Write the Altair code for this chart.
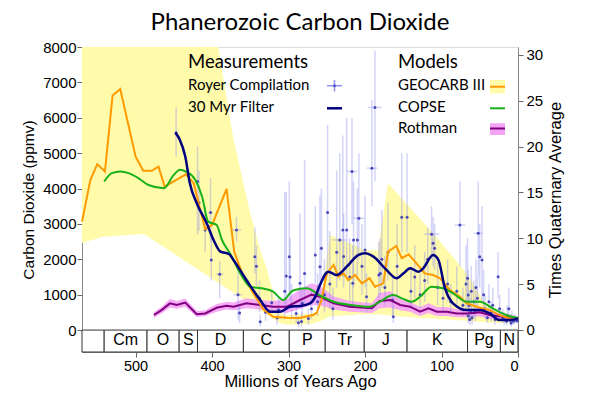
import altair as alt
import pandas as pd

# ---------------- data ----------------
geocarb_age = [570, 559, 550, 540, 530, 520, 500, 490, 479, 470, 462, 450, 434, 424, 409, 400, 381, 371,
               359, 346, 333, 320, 302, 285, 268, 263, 257, 250, 241, 235, 228, 222, 213, 204, 194, 187,
               176, 170, 159, 152, 143, 128, 122, 111, 102, 89, 76, 67, 54, 37, 24, 11, 0]
geocarb_ppm = [3065, 4245, 4690, 4480, 6630, 6810, 4905, 4500, 4500, 4620, 4055, 4200, 4400, 4150, 2850, 2970, 3990, 2215,
               1510, 1040, 585, 375, 350, 340, 425, 490, 850, 1600, 1840, 1510, 1600, 1415, 1555, 1320, 1465, 1225,
               1320, 2215, 2375, 2030, 2140, 1765, 1600, 1555, 1465, 1130, 940, 755, 660, 565, 425, 330, 330]

geocarb_err_age = [570, 543, 489, 392, 372, 350, 337, 328, 315, 311, 305, 290, 270, 259, 246, 225, 200, 183,
                   170, 154, 111, 67, 46, 24, 0]
geocarb_err_hi = [8000, 8000, 8000, 8000, 5400, 3300, 2265, 1700, 660, 500, 420, 430, 470, 500, 2690, 2500, 2250, 2250,
                  4150, 3770, 2735, 1600, 850, 425, 330]
geocarb_err_lo = [2460, 2640, 2715, 1340, 1055, 745, 560, 430, 250, 190, 160, 150, 180, 250, 380, 420, 450, 450,
                  420, 380, 320, 260, 230, 200, 250]

copse_age = [541, 531, 520, 509, 496, 483, 463, 450, 442, 434, 422, 413, 405, 394, 387, 376, 363, 350, 335,
             320, 307, 294, 276, 259, 241, 219, 194, 181, 163, 150, 139, 128, 113, 98, 85, 67, 50, 33, 15, 0]
copse_ppm = [4200, 4435, 4480, 4435, 4290, 4100, 4010, 4385, 4530, 4480, 4245, 3770, 3065, 2970, 2545, 2150, 1600, 1225, 1180,
             1085, 850, 1120, 1180, 980, 800, 710, 660, 800, 990, 880, 800, 940, 1225, 1180, 1040, 800, 800, 615, 425, 340]

filter_age = [448, 442, 435, 429, 420, 407, 398, 389, 378, 372, 355, 337, 324, 311, 298, 285, 272, 265, 259,
              248, 237, 224, 209, 200, 189, 172, 159, 150, 141, 130, 124, 111, 104, 96, 85, 67, 50, 37, 24, 11, 0]
filter_ppm = [5580, 5375, 4905, 4150, 3585, 3020, 2545, 2215, 2150, 1980, 1415, 850, 520, 520, 660, 680, 755, 940, 1270,
              1650, 1555, 1790, 2120, 2170, 2075, 1700, 1465, 1600, 1745, 1650, 1745, 2120, 1980, 1225, 755, 565, 565, 470, 283, 283, 330]

rothman_age = [476, 466, 455, 446, 435, 420, 409, 394, 381, 372, 355, 337, 320, 302, 285, 270, 259, 241, 220, 191,
               181, 167, 154, 141, 128, 117, 106, 93, 80, 67, 50, 37, 20, 2]
rothman_ppm = [425, 565, 755, 710, 775, 450, 470, 630, 690, 660, 755, 710, 660, 660, 850, 1000, 940, 755, 660, 615,
               820, 850, 710, 660, 520, 615, 520, 520, 470, 470, 500, 425, 375, 330]
rothman_lo = [350, 470, 640, 600, 660, 370, 390, 520, 580, 560, 620, 580, 520, 480, 600, 700, 700, 580, 520, 480,
              620, 640, 560, 520, 400, 480, 400, 400, 360, 360, 380, 320, 280, 260]
rothman_hi = [500, 660, 880, 820, 890, 540, 560, 740, 800, 780, 900, 850, 820, 880, 1150, 1320, 1250, 950, 820, 760,
              1050, 1100, 880, 800, 650, 760, 650, 650, 590, 590, 620, 530, 470, 400]

# Royer compilation: (age Ma, ppm, low ppm, high ppm, age half-error Myr)
royer_points = [
    (447, 5580, 4900, 6300, 0), (419, 4200, 2700, 5200, 0), (417, 3600, 2800, 4500, 0), (409, 2830, 2200, 3500, 0),
    (402, 3320, 2500, 4300, 3), (401, 1980, 1400, 2600, 0), (390, 1575, 900, 1950, 5), (368, 2830, 2500, 3200, 6),
    (366, 1000, 300, 1700, 6), (364, 480, 200, 700, 0), (344, 2075, 1600, 2900, 0), (342, 1800, 1200, 2400, 0),
    (338, 900, 500, 1400, 0), (337, 235, 100, 450, 0), (330, 500, 250, 800, 0), (322, 770, 500, 1100, 0),
    (315, 350, 150, 600, 0), (313, 565, 300, 900, 4), (305, 1100, 300, 3900, 0), (303, 1530, 600, 3900, 0),
    (299, 2075, 1000, 4200, 0), (298, 1500, 800, 2600, 0), (296, 700, 300, 1300, 0), (290, 470, 200, 800, 0),
    (287, 210, 80, 400, 0), (285, 1320, 600, 3300, 0), (283, 240, 80, 500, 0), (282, 755, 400, 1200, 0),
    (279, 1600, 700, 4800, 0), (274, 330, 150, 600, 0), (270, 600, 300, 1100, 0), (265, 2120, 1300, 3500, 0),
    (262, 800, 400, 1600, 0), (259, 1790, 800, 3800, 0), (257, 2310, 1300, 4000, 0), (253, 1000, 500, 2000, 0),
    (249, 3320, 1500, 5800, 0), (246, 1300, 600, 2800, 0), (242, 600, 300, 1200, 0), (237, 2200, 1200, 4500, 0),
    (233, 2545, 1400, 5000, 10), (229, 2830, 1500, 5500, 0), (228, 2080, 1200, 3300, 0), (224, 2830, 1500, 6000, 0),
    (220, 1500, 800, 2600, 0), (217, 4480, 3000, 6000, 7), (216, 1320, 700, 2400, 0), (215, 2545, 1200, 4200, 0),
    (210, 2545, 1400, 4000, 0), (208, 3160, 2000, 5000, 7), (204, 1800, 1000, 3000, 0), (200, 2265, 1200, 3800, 0),
    (198, 940, 500, 1600, 0), (191, 4575, 3500, 6500, 7), (187, 6290, 4200, 7900, 9), (182, 1555, 900, 2500, 0),
    (180, 1600, 1000, 2600, 0), (178, 2000, 1200, 3400, 0), (174, 1200, 700, 2100, 0), (170, 2200, 1400, 3600, 0),
    (164, 850, 400, 1500, 0), (163, 375, 200, 700, 0), (158, 1800, 1000, 3000, 0), (152, 3190, 2200, 5000, 0),
    (145, 3190, 2200, 5000, 0), (140, 1100, 600, 1800, 0), (135, 1500, 900, 2400, 0), (128, 1000, 600, 1600, 0),
    (122, 1400, 800, 2200, 0), (118, 2000, 1300, 2900, 0), (113, 2710, 2000, 3500, 10), (111, 2450, 1800, 3200, 0),
    (109, 2310, 1700, 3000, 0), (105, 1200, 700, 1900, 0), (98, 900, 500, 1500, 0), (92, 1300, 800, 2000, 0),
    (88, 800, 500, 1300, 0), (80, 1100, 600, 1800, 0), (76, 2970, 1800, 4200, 7), (72, 700, 400, 1200, 0),
    (68, 1300, 600, 2400, 0), (66, 1465, 800, 2600, 0), (65, 990, 500, 1700, 0), (65, 400, 200, 700, 0),
    (64, 700, 400, 1100, 0), (63, 300, 150, 500, 0), (62, 550, 300, 900, 0), (61, 1100, 600, 1800, 0),
    (60, 350, 150, 600, 0), (58, 800, 400, 1400, 0), (56, 500, 250, 900, 0), (55, 1200, 700, 2000, 0),
    (53, 900, 500, 1500, 0), (52, 2735, 1500, 4200, 6), (50, 2075, 1200, 3000, 0), (47, 1980, 800, 3500, 0),
    (45, 1000, 500, 1700, 0), (43, 600, 300, 1000, 0), (40, 350, 200, 600, 0), (38, 800, 400, 1300, 0),
    (35, 500, 250, 800, 0), (33, 700, 350, 1200, 0), (30, 300, 150, 500, 0), (26, 1510, 900, 2200, 0),
    (24, 600, 300, 1000, 0), (20, 350, 200, 600, 0), (18, 300, 150, 500, 0), (15, 250, 120, 400, 0),
    (14, 400, 200, 700, 0), (12, 600, 300, 1200, 0), (10, 280, 150, 450, 0), (9, 200, 100, 350, 0),
    (8, 350, 200, 550, 0), (6, 250, 150, 400, 0), (4, 300, 180, 450, 0), (2, 280, 200, 380, 0), (1, 260, 200, 330, 0),
]

period_start = [570, 541, 485, 443, 419, 359, 299, 252, 201, 145, 66, 23]
period_end = [541, 485, 443, 419, 359, 299, 252, 201, 145, 66, 23, 0]
period_label = ["", "Cm", "O", "S", "D", "C", "P", "Tr", "J", "K", "Pg", "N"]

y_ticks = [0, 1000, 2000, 3000, 4000, 5000, 6000, 7000, 8000]
x_ticks = [500, 400, 300, 200, 100, 0]
r_ticks = [0, 5, 10, 15, 20, 25, 30]

# ---------------- frames ----------------
geo_err = pd.DataFrame({"age": geocarb_err_age, "lo": geocarb_err_lo, "hi": geocarb_err_hi})
geocarb = pd.DataFrame({"age": geocarb_age, "ppm": geocarb_ppm})
copse = pd.DataFrame({"age": copse_age, "ppm": copse_ppm})
filt = pd.DataFrame({"age": filter_age, "ppm": filter_ppm})
roth = pd.DataFrame({"age": rothman_age, "ppm": rothman_ppm, "lo": rothman_lo, "hi": rothman_hi})
royer = pd.DataFrame(royer_points, columns=["age", "ppm", "lo", "hi", "aerr"])
royer["a0"] = royer["age"] + royer["aerr"]
royer["a1"] = royer["age"] - royer["aerr"]
royer_h = royer[royer["aerr"] > 0]
periods = pd.DataFrame({"s": period_start, "e": period_end, "label": period_label})
periods["mid"] = (periods["s"] + periods["e"]) / 2
one = pd.DataFrame({"k": [0]})

AX_FONT = "Liberation Sans"
LG_FONT = "Lato"
XS = alt.Scale(domain=[570, 0], nice=False, zero=False)
YS = alt.Scale(domain=[-620, 8000], nice=False, zero=False)
RS = alt.Scale(domain=[-2.4, 30.87], nice=False, zero=False)

x_axis = alt.Axis(values=x_ticks, format="d", title="Millions of Years Ago", labelFont=AX_FONT, titleFont=AX_FONT,
                  labelFontSize=14.5, titleFontSize=16.5, titleFontWeight="normal", labelColor="black",
                  titleColor="black", tickSize=5, labelPadding=2, titlePadding=1, grid=False,
                  domainColor="#888888", tickColor="#666666")
y_axis = alt.Axis(values=y_ticks, format="d", title="Carbon Dioxide (ppmv)", orient="left", labelFont=AX_FONT,
                  titleFont=AX_FONT, labelFontSize=15, titleFontSize=15.5, titleFontWeight="normal",
                  labelColor="black", titleColor="black", tickSize=5, labelPadding=1, titlePadding=6, grid=False,
                  domainColor="#888888", tickColor="#666666")
r_axis = alt.Axis(values=r_ticks, format="d", title="Times Quaternary Average", orient="right", labelFont=AX_FONT,
                  titleFont=AX_FONT, labelFontSize=15, titleFontSize=16.5, titleFontWeight="normal",
                  labelColor="black", titleColor="black", tickSize=5, labelPadding=3, titlePadding=5, grid=False,
                  titleAngle=270, titleBaseline="top",
                  domainColor="#888888", tickColor="#666666")


def X(f):
    return alt.X(f, type="quantitative", scale=XS, axis=x_axis)


def Y(f, axis=None):
    return alt.Y(f, type="quantitative", scale=YS, axis=axis)


yellow = alt.Chart(geo_err).mark_area(color="#FFFBAA", opacity=1, clip=True).encode(
    x=X("age"), y=Y("hi", y_axis), y2="lo")
pink = alt.Chart(roth).mark_area(color="#F5A3F5", opacity=0.9).encode(x=X("age"), y=Y("hi"), y2="lo")
r_v = alt.Chart(royer).mark_rule(color="#8F8FEE", opacity=0.38, strokeWidth=1.5, clip=True).encode(
    x=X("age"), y=Y("lo"), y2="hi")
r_h = alt.Chart(royer_h).mark_rule(color="#8F8FEE", opacity=0.38, strokeWidth=1.5).encode(
    x=X("a0"), x2="a1", y=Y("ppm"))
r_p = alt.Chart(royer).mark_circle(color="#3A3AB5", size=9, opacity=0.9).encode(x=X("age"), y=Y("ppm"))
purple = alt.Chart(roth).mark_line(color="#800080", strokeWidth=2).encode(x=X("age"), y=Y("ppm"))
orange = alt.Chart(geocarb).mark_line(color="#FF9900", strokeWidth=2).encode(x=X("age"), y=Y("ppm"))
green = alt.Chart(copse).mark_line(color="#19B019", strokeWidth=2, interpolate="monotone").encode(
    x=X("age"), y=Y("ppm"))
navy = alt.Chart(filt).mark_line(color="#000080", strokeWidth=2.5, interpolate="monotone").encode(
    x=X("age"), y=Y("ppm"))

pbox = alt.Chart(periods).mark_rect(fill="white", stroke="#333333", strokeWidth=1).encode(
    x=X("s"), x2="e", y=Y("y0:Q"), y2="y1:Q").transform_calculate(y0="0", y1="-620")
ptext = alt.Chart(periods).mark_text(font=AX_FONT, fontSize=16, color="black", baseline="middle").encode(
    x=X("mid"), y=Y("ym:Q"), text="label:N").transform_calculate(ym="-290")


def txt(s, x, y, size=15):
    return alt.Chart(one).mark_text(text=s, font=LG_FONT, fontSize=size, align="left", baseline="alphabetic",
                                    color="black").encode(x=alt.value(x), y=alt.value(y))


def hline(x0, x1, y, color, w):
    return alt.Chart(one).mark_rule(color=color, strokeWidth=w).encode(
        x=alt.value(x0), x2=alt.value(x1), y=alt.value(y))


def box(x0, x1, y0, y1, color):
    return alt.Chart(one).mark_rect(color=color).encode(
        x=alt.value(x0), x2=alt.value(x1), y=alt.value(y0), y2=alt.value(y1))


legend = [
    txt("Measurements", 106, 20.5, 18.5),
    txt("Royer Compilation", 106, 43, 15),
    txt("30 Myr Filter", 106, 64.5, 15),
    txt("Models", 316, 20.5, 18.5),
    txt("GEOCARB III", 316, 43, 15),
    txt("COPSE", 316, 64.5, 15),
    txt("Rothman", 316, 86, 15),
    hline(245, 260, 38.7, "#8F8FEE", 1.5),
    alt.Chart(one).mark_rule(color="#8F8FEE", strokeWidth=1.5).encode(
        x=alt.value(252.5), y=alt.value(33), y2=alt.value(44.5)),
    alt.Chart(one).mark_circle(color="#3A3AB5", size=9).encode(x=alt.value(252.5), y=alt.value(38.7)),
    hline(245, 260, 61.3, "#000080", 2.5),
    box(408, 423, 33, 46.3, "#FFFBAA"),
    hline(408, 423, 39.7, "#FF9900", 2),
    hline(408, 423, 61.3, "#19B019", 2),
    box(408, 423, 76.3, 88, "#F5A3F5"),
    hline(408, 423, 81.5, "#800080", 2),
]

right = alt.Chart(one).mark_point(opacity=0).encode(
    x=X("k:Q"), y=alt.Y("k:Q", scale=RS, axis=r_axis))

chart = alt.layer(yellow, pink, r_v, r_h, r_p, purple, orange, green, navy, pbox, ptext, right, *legend
                  ).resolve_scale(y="independent").properties(
    width=436, height=305,
    autosize=alt.AutoSizeParams(type="none"),
    padding={"left": 74, "top": 39, "right": 75, "bottom": 46},
    title=alt.TitleParams("Phanerozoic Carbon Dioxide", font=LG_FONT, fontSize=24, fontWeight="normal",
                          anchor="middle", frame="group", offset=5, color="black"),
).configure_view(stroke="#AAAAAA", strokeWidth=1).configure(background="white")

chart.save("out.html", embed_options={"renderer": "svg", "actions": False})
